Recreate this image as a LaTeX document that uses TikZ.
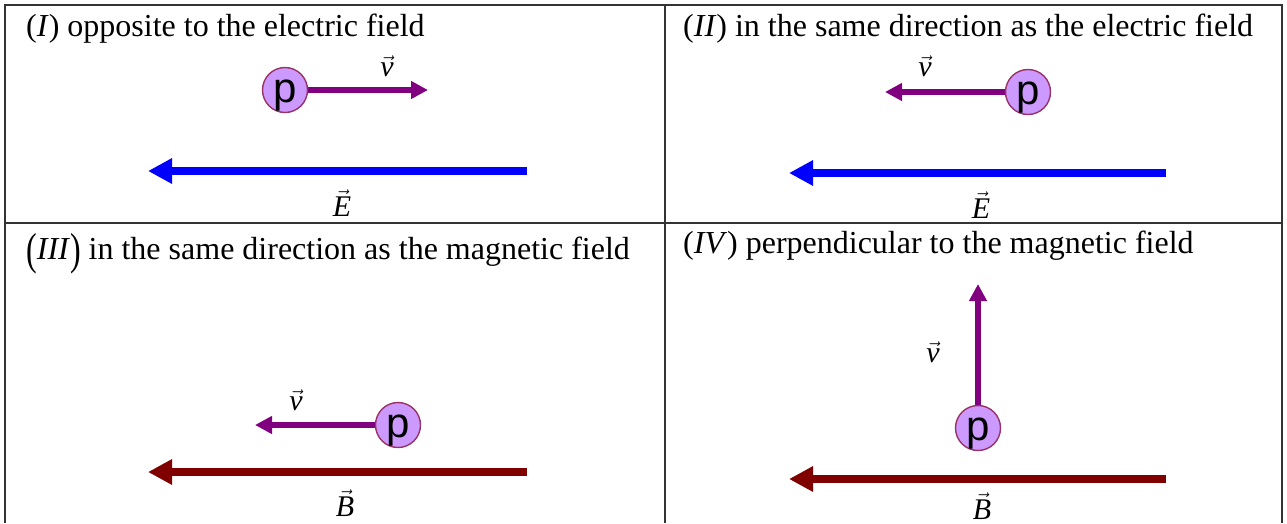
\documentclass[tikz,border=0pt]{standalone}
\usepackage{fontspec}
\usepackage{graphicx}
\setmainfont{Liberation Serif}
\newfontfamily\psans{Liberation Sans}
\usetikzlibrary{arrows.meta}
\definecolor{pfill}{HTML}{CC99FF}
\definecolor{pdraw}{HTML}{993366}
\definecolor{vcol}{HTML}{800080}
\definecolor{ecol}{HTML}{0000FF}
\definecolor{bcol}{HTML}{800000}
\newcommand{\tallparen}[1]{\raisebox{-0.17em}{\scalebox{1}[1.4]{#1}}}
\begin{document}
\begin{tikzpicture}[x=1pt,y=-1pt,
  grid/.style={draw=black!80,line width=1.3pt},
  title/.style={anchor=base west,inner sep=0pt,font=\fontsize{32}{36}\selectfont},
  lbl/.style={inner sep=0pt,font=\fontsize{30}{34}\selectfont},
  proton/.style={circle,draw=pdraw,fill=pfill,line width=1.4pt,minimum size=45pt,inner sep=0pt},
  ptext/.style={inner sep=0pt,font=\psans\fontsize{42}{44}\selectfont},
  varrow/.style={draw=vcol,line width=6pt,-{Triangle[length=17pt,width=17pt]}},
  earrow/.style={draw=ecol,line width=8pt,-{Triangle[length=24pt,width=24pt]}},
  barrow/.style={draw=bcol,line width=8pt,-{Triangle[length=24pt,width=24pt]}}]
\useasboundingbox (0,0) rectangle (1287,523);
% grid
\draw[grid] (5,523) -- (5,5) -- (1282,5) -- (1282,523);
\draw[grid] (665,5) -- (665,523);
\draw[grid] (5,223) -- (1282,223);
% Panel I
\node[title] (t1) at (26,36) {(\textit{I}) opposite to the electric field};
\node[proton] (p1) at (285,90) {};
\node[ptext,anchor=base] (q1) at (285,102) {p};
\coordinate (v1e) at (428,90);
\draw[varrow] (p1.east) -- (v1e);
\node[lbl] (v1) at (387,66) {$\vec{\mbox{\itshape v}}$};
\coordinate (e1s) at (527,171);
\coordinate (e1e) at (148,171);
\draw[earrow] (e1s) -- (e1e);
\node[lbl] (e1) at (342,203) {$\vec{\mbox{\itshape E}}$};
% Panel II
\node[title] (t2) at (683,36) {(\textit{II}) in the same direction as the electric field};
\node[proton] (p2) at (1028,92) {};
\node[ptext,anchor=base] (q2) at (1028,104) {p};
\coordinate (v2e) at (885,92);
\draw[varrow] (p2.west) -- (v2e);
\node[lbl] (v2) at (925,66) {$\vec{\mbox{\itshape v}}$};
\coordinate (e2s) at (1166,173);
\coordinate (e2e) at (789,173);
\draw[earrow] (e2s) -- (e2e);
\node[lbl] (e2) at (981,205) {$\vec{\mbox{\itshape E}}$};
% Panel III
\node[title] (t3) at (26,259) {\tallparen{(}\textit{III}\tallparen{)} in the same direction as the magnetic field};
\node[proton] (p3) at (398,425) {};
\node[ptext,anchor=base] (q3) at (398,437) {p};
\coordinate (v3e) at (255,425);
\draw[varrow] (p3.west) -- (v3e);
\node[lbl] (v3) at (296,400) {$\vec{\mbox{\itshape v}}$};
\coordinate (b3s) at (527,472);
\coordinate (b3e) at (148,472);
\draw[barrow] (b3s) -- (b3e);
\node[lbl] (b3) at (345,503) {$\vec{\mbox{\itshape B}}$};
% Panel IV
\node[title] (t4) at (683,253) {(\textit{IV}) perpendicular to the magnetic field};
\node[proton] (p4) at (978,428) {};
\node[ptext,anchor=base] (q4) at (978,440) {p};
\coordinate (v4e) at (978,284);
\draw[varrow] (p4.north) -- (v4e);
\node[lbl] (v4) at (933,352) {$\vec{\mbox{\itshape v}}$};
\coordinate (b4s) at (1166,479);
\coordinate (b4e) at (789,479);
\draw[barrow] (b4s) -- (b4e);
\node[lbl] (b4) at (982,506) {$\vec{\mbox{\itshape B}}$};
\end{tikzpicture}
\end{document}
